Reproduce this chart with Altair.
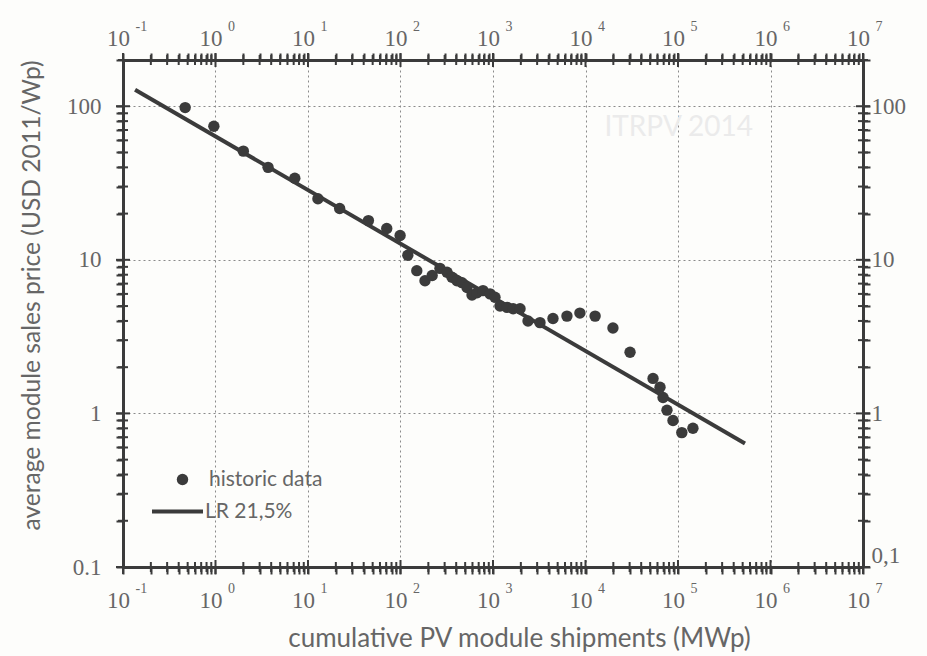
import math

import altair as alt
import pandas as pd

# Cumulative PV module shipments (MWp) and average module sales price (USD 2011/Wp)
shipments = [0.47, 0.96, 2.0, 3.7, 7.2, 12.8, 22, 45, 71, 99, 120, 150, 184, 220,
             267, 318, 360, 408, 462, 524, 593, 672, 780, 930, 1050, 1190, 1420,
             1650, 1960, 2390, 3220, 4450, 6300, 8700, 12700, 19800, 30300, 53700,
             63900, 68900, 76000, 88300, 110000, 145000]
prices = [98, 74, 51, 40, 34, 25, 21.6, 18, 16, 14.4, 10.7, 8.5, 7.3, 7.9,
          8.8, 8.3, 7.7, 7.3, 7.1, 6.6, 5.9, 6.1, 6.3, 6.0, 5.7, 5.0, 4.9,
          4.8, 4.8, 4.0, 3.9, 4.15, 4.3, 4.5, 4.3, 3.6, 2.5, 1.69,
          1.48, 1.27, 1.05, 0.90, 0.75, 0.80]

# Learning-rate line: 21.5 % price drop per doubling of cumulative shipments
learning_rate = 0.215
line_start = (0.135, 128.0)
line_end_x = 5.3e5

point_series = ["historic data"]
line_series = ["LR 21,5%"]

x_exponents = [-1, 0, 1, 2, 3, 4, 5, 6, 7]
x_exponent_labels = ["-1", "0", "1", "2", "3", "4", "5", "6", "7"]
y_major = [0.1, 1, 10, 100]
y_left_labels = ["0.1", "1", "10", "100"]
y_right_labels = ["0,1", "1", "10", "100"]

watermark = ["ITRPV 2014"]
watermark_x = [1.6e4]
watermark_y = [72]

x_domain = [0.1, 1e7]
y_domain = [0.1, 200]

slope = math.log2(1 - learning_rate)
line_end_y = line_start[1] * (line_end_x / line_start[0]) ** slope

pts = pd.DataFrame({"shipments": shipments, "price": prices,
                    "series": point_series[0]})
lr = pd.DataFrame({"shipments": [line_start[0], line_end_x],
                   "price": [line_start[1], line_end_y],
                   "series": line_series[0]})
wm = pd.DataFrame({"shipments": watermark_x, "price": watermark_y,
                   "label": watermark})

x_decades = [10.0 ** e for e in x_exponents]
# tick positions: 1..9 times each decade (minor ticks unlabeled)
x_ticks = [k * 10.0 ** e for e in x_exponents[:-1] for k in range(1, 10)] + [1e7]
y_ticks = [k * 10.0 ** e for e in range(-1, 2) for k in range(1, 10)] + [100, 200]


def is_decade(v):
    e = math.log10(v)
    return abs(e - round(e)) < 1e-9


MAJOR_LEN, MINOR_LEN = 14, 10
x_tick_len = [MAJOR_LEN if is_decade(v) else MINOR_LEN for v in x_ticks]
y_tick_len = [MAJOR_LEN if is_decade(v) else MINOR_LEN for v in y_ticks]

# frame tick marks along the four sides of the plot
ticks_bottom = pd.DataFrame({"shipments": x_ticks, "price": y_domain[0], "len": x_tick_len})
ticks_top = pd.DataFrame({"shipments": x_ticks, "price": y_domain[1], "len": x_tick_len})
ticks_left = pd.DataFrame({"shipments": x_domain[0], "price": y_ticks, "len": y_tick_len})
ticks_right = pd.DataFrame({"shipments": x_domain[1], "price": y_ticks, "len": y_tick_len})


def label_expr(values, labels):
    expr = "''"
    for v, l in zip(values, labels):
        expr = f"abs(datum.value - {v}) < {v}*1e-6 ? '{l}' : ({expr})"
    return expr


IS_DECADE = "abs(log(datum.value)/LN10 - round(log(datum.value)/LN10)) < 1e-6"

TEXT = "#666666"
INK = "#3b3b3b"
SERIF = "Liberation Serif"
SANS = "Lato"

xscale = alt.Scale(type="log", domain=x_domain, nice=False)
yscale = alt.Scale(type="log", domain=y_domain, nice=False)

frame_axis = dict(
    domainColor=INK, domainWidth=3,
    ticks=True, tickColor=INK, tickWidth=2, tickSize=7, tickOpacity=1,
    labelFont=SERIF, labelColor=TEXT, labelFontSize=23,
    labelOverlap=False,
)
grid_style = dict(grid=True, gridColor="#8a8a8a", gridDash=[2, 3], gridWidth=1,
                  gridOpacity=alt.condition(IS_DECADE, alt.value(1), alt.value(0)))
exponent_axis = dict(
    values=x_decades, labelExpr=label_expr(x_decades, x_exponent_labels),
    domain=False, ticks=False, grid=False, title=None,
    labelFont=SERIF, labelColor=TEXT, labelFontSize=14,
    labelAlign="left", labelOffset=12, labelFlush=False, labelOverlap=False,
)
base_label = label_expr(x_decades, ["10"] * len(x_decades))

x_bottom = alt.Axis(orient="bottom", values=x_ticks, labelExpr=base_label,
                    labelPadding=15, labelOffset=-5, labelFlush=False,
                    title="cumulative PV module shipments (MWp)",
                    titleFont=SANS, titleFontSize=26, titleFontWeight="normal",
                    titleColor=TEXT, titlePadding=13, titleX=396,
                    **grid_style, **frame_axis)
x_top = alt.Axis(orient="top", values=x_ticks, labelExpr=base_label,
                 labelPadding=3, labelOffset=-5, labelFlush=False,
                 grid=False, title=None, **frame_axis)
x_bottom_exp = alt.Axis(orient="bottom", labelPadding=14, **exponent_axis)
x_top_exp = alt.Axis(orient="top", labelPadding=27, **exponent_axis)

y_left = alt.Axis(orient="left", values=y_ticks,
                  labelExpr=label_expr(y_major, y_left_labels), labelPadding=15,
                  labelFlush=False,
                  title="average module sales price (USD 2011/Wp)",
                  titleFont=SANS, titleFontSize=24.6, titleFontWeight="normal",
                  titleColor=TEXT, titlePadding=22, titleY=235,
                  **grid_style, **frame_axis)
y_right = alt.Axis(orient="right", values=y_ticks,
                   labelExpr=label_expr(y_major, y_right_labels), labelPadding=1,
                   labelFlush=True, grid=False, title=None, **frame_axis)

legend_text = dict(title=None, orient="none", labelFont=SANS, labelFontSize=21,
                   labelColor=TEXT)

points = alt.Chart(pts).mark_point(filled=True, opacity=1, color=INK, size=130).encode(
    x=alt.X("shipments:Q", scale=xscale, axis=x_bottom),
    y=alt.Y("price:Q", scale=yscale, axis=y_left),
    shape=alt.Shape("series:N",
                    scale=alt.Scale(domain=point_series, range=["circle"]),
                    legend=alt.Legend(legendX=49, legendY=409, symbolSize=130,
                                      symbolFillColor=INK, symbolStrokeWidth=0,
                                      labelOffset=16, **legend_text)),
)

line = alt.Chart(lr).mark_line(strokeWidth=4).encode(
    x=alt.X("shipments:Q", scale=xscale, axis=x_top),
    y=alt.Y("price:Q", scale=yscale, axis=y_right),
    color=alt.Color("series:N",
                    scale=alt.Scale(domain=line_series, range=[INK]),
                    legend=alt.Legend(legendX=27, legendY=424, symbolType="stroke",
                                      symbolSize=2600, symbolStrokeWidth=4,
                                      labelOffset=0, **legend_text)),
)

# superscript exponents of the decade labels, bottom and top
exp_bottom = alt.Chart(lr).mark_point(opacity=0).encode(
    x=alt.X("shipments:Q", scale=xscale, axis=x_bottom_exp),
    y=alt.Y("price:Q", scale=yscale, axis=None),
)
exp_top = alt.Chart(lr).mark_point(opacity=0).encode(
    x=alt.X("shipments:Q", scale=xscale, axis=x_top_exp),
    y=alt.Y("price:Q", scale=yscale, axis=None),
)


def tick_layer(df, orient):
    return alt.Chart(df).mark_tick(orient=orient, thickness=2, color=INK, opacity=1).encode(
        x=alt.X("shipments:Q", scale=xscale, axis=None),
        y=alt.Y("price:Q", scale=yscale, axis=None),
        size=alt.Size("len:Q", scale=None, legend=None),
    )


frame_ticks = [tick_layer(ticks_bottom, "vertical"), tick_layer(ticks_top, "vertical"),
               tick_layer(ticks_left, "horizontal"), tick_layer(ticks_right, "horizontal")]

mark_text = alt.Chart(wm).mark_text(align="left", baseline="middle", font=SANS,
                                    fontSize=28, color="#ebebeb").encode(
    x=alt.X("shipments:Q", scale=xscale, axis=None),
    y=alt.Y("price:Q", scale=yscale, axis=None),
    text="label:N",
)

chart = alt.layer(mark_text, exp_bottom, exp_top, *frame_ticks, line, points).resolve_axis(
    x="independent", y="independent"
).properties(
    width=740, height=507,
    autosize=alt.AutoSizeParams(type="none"),
    padding={"left": 123, "top": 60, "right": 64, "bottom": 89},
    background="#fdfdfb",
).configure_view(stroke=None)

chart.save("out.html", embed_options={"renderer": "svg", "actions": False})
